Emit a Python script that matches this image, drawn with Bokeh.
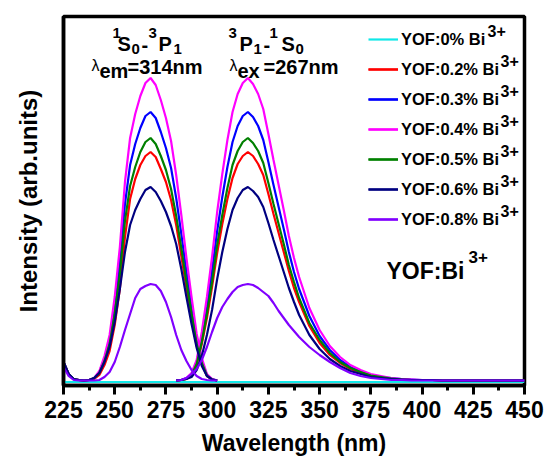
from bokeh.plotting import figure
from bokeh.models import Range1d, FixedTicker, Label, Legend, LegendItem
from bokeh.embed import file_html
from bokeh.resources import INLINE

# ---- data -------------------------------------------------------------
# excitation scan (monitored at 314 nm)
wl_ex = [225.0, 227.5, 230.0, 232.5, 235.0, 237.5, 240.0, 242.5, 245.0, 247.5,
         250.0, 252.5, 255.0, 257.5, 260.0, 262.5, 265.0, 267.5, 270.0, 272.5,
         275.0, 277.5, 280.0, 282.5, 285.0, 287.5, 290.0, 292.5, 295.0, 297.5,
         300.0]
# emission scan (excited at 267 nm)
wl_em = [280.0, 282.5, 285.0, 287.5, 290.0, 292.5, 295.0, 297.5, 300.0, 302.5,
         305.0, 307.5, 310.0, 312.5, 315.0, 317.5, 320.0, 322.5, 325.0, 327.5,
         330.0, 332.5, 335.0, 337.5, 340.0, 345.0, 350.0, 355.0, 360.0, 365.0,
         370.0, 375.0, 380.0, 385.0, 390.0, 395.0, 400.0, 405.0, 410.0, 415.0,
         420.0, 425.0, 430.0, 435.0, 440.0, 445.0, 450.0]
# undoped sample: flat over the whole range
wl_flat = [225, 250, 275, 300, 325, 350, 375, 400, 425, 450]
int_00 = [0, 0, 0, 0, 0, 0, 0, 0, 0, 0]

ex_02 = [20, 8, 3, 2, 1.5, 2, 3, 7, 17, 31, 57, 93, 145, 183, 203, 217, 226, 230,
         225, 213, 200, 182, 157, 126, 94, 64, 36, 18, 6, 2.5, 1.5]
em_02 = [1.5, 2, 3, 7, 17, 38, 64, 95, 129, 158, 183, 204, 218, 226, 230, 226, 218,
         207, 188, 168, 149, 130, 111, 94, 80, 56, 39, 27, 19, 13, 9, 6, 4.5, 3,
         2.5, 2, 2, 2, 1.5, 1.5, 1.5, 1.5, 1.5, 1.5, 1.5, 1.5, 1.5]

ex_03 = [20, 8, 3, 2, 1.5, 2, 4, 10, 23, 42, 76, 120, 178, 217, 238, 254, 266, 270,
         264, 250, 234, 214, 184, 148, 110, 76, 43, 21, 7, 3, 1.5]
em_03 = [1.5, 2, 4, 8, 20, 44, 75, 111, 151, 185, 215, 240, 256, 266, 270, 265, 256,
         242, 220, 197, 175, 153, 130, 110, 93, 66, 46, 32, 22, 15, 11, 7, 5, 4,
         3, 2.5, 2, 2, 1.5, 1.5, 1.5, 1.5, 1.5, 1.5, 1.5, 1.5, 1.5]

ex_04 = [20, 8, 3, 2, 1.5, 2, 4, 11, 26, 47, 85, 135, 200, 244, 268, 286, 299, 304,
         297, 282, 264, 241, 207, 167, 124, 85, 48, 24, 8, 3, 1.5]
em_04 = [1.5, 2, 4, 9, 22, 50, 85, 125, 170, 208, 242, 270, 288, 299, 304, 298, 288,
         273, 248, 222, 197, 172, 146, 124, 105, 74, 52, 36, 25, 17, 12, 8, 6, 4,
         3, 2.5, 2, 2, 1.5, 1.5, 1.5, 1.5, 1.5, 1.5, 1.5, 1.5, 1.5]

ex_05 = [20, 8, 3, 2, 1.5, 2, 4, 9, 21, 38, 68, 108, 161, 196, 215, 230, 240, 244,
         238, 226, 212, 193, 166, 134, 100, 68, 38, 19, 6.5, 2.5, 1.5]
em_05 = [1.5, 2, 3, 7, 18, 40, 68, 100, 137, 167, 194, 217, 231, 240, 244, 239, 231,
         219, 199, 178, 158, 138, 117, 100, 84, 59, 42, 29, 20, 14, 10, 6.5, 5,
         3.5, 2.5, 2, 2, 2, 1.5, 1.5, 1.5, 1.5, 1.5, 1.5, 1.5, 1.5, 1.5]

ex_06 = [20, 8, 3, 2, 1.5, 2, 4, 9, 20, 35, 60, 93, 130, 157, 172, 183, 192, 195,
         190, 181, 170, 156, 138, 113, 85, 58, 34, 16, 6, 2.5, 1.5]
em_06 = [1.5, 2, 3, 5, 12, 26, 47, 72, 103, 130, 153, 172, 184, 192, 195, 191, 185,
         175, 159, 142, 126, 110, 94, 80, 67, 47, 33, 23, 16, 11, 8, 5, 4, 3,
         2.5, 2, 2, 2, 1.5, 1.5, 1.5, 1.5, 1.5, 1.5, 1.5, 1.5, 1.5]

ex_08 = [15, 6, 2, 1.5, 1.5, 1.5, 1.5, 2, 5, 10, 20, 35, 52, 68, 84, 93, 96, 98,
         97, 91, 80, 65, 47, 32, 21, 12, 6, 3, 2, 1.5, 1.5]
em_08 = [1.5, 2, 4, 8, 13, 22, 35, 50, 64, 75, 83, 90, 95, 97, 98, 97, 94, 90, 86,
         79, 71, 64, 57, 51, 45, 35, 27, 20, 14, 9, 6, 4, 3, 2, 2, 1.5, 1.5, 1.5,
         1.5, 1.5, 1.5, 1.5, 1.5, 1.5, 1.5, 1.5, 1.5]

legend_labels = ["YOF:0% Bi", "YOF:0.2% Bi", "YOF:0.3% Bi", "YOF:0.4% Bi",
                 "YOF:0.5% Bi", "YOF:0.6% Bi", "YOF:0.8% Bi"]
colors = ["#10E8E8", "#FF0000", "#0000FF", "#FF00FF", "#008000", "#000080", "#8000FF"]

x_ticks = [225, 250, 275, 300, 325, 350, 375, 400, 425, 450]
x_minor = [237.5, 262.5, 287.5, 312.5, 337.5, 362.5, 387.5, 412.5, 437.5]

FONT = "Liberation Sans"

# ---- figure -----------------------------------------------------------
p = figure(width=544, height=461, output_backend="svg", toolbar_location=None,
           x_range=Range1d(225, 450), y_range=Range1d(-3.5, 365.5),
           min_border_left=63, min_border_right=20, min_border_top=16,
           min_border_bottom=76)
p.background_fill_color = "white"
p.border_fill_color = "white"
p.grid.visible = False
p.outline_line_color = "black"
p.outline_line_width = 3.5
p.outline_line_alpha = 1.0

xa = p.xaxis[0]
xa.ticker = FixedTicker(ticks=x_ticks, minor_ticks=x_minor)
xa.axis_line_width = 3.5
xa.major_tick_line_width = 3
xa.minor_tick_line_width = 3
xa.major_tick_out = 9
xa.major_tick_in = 0
xa.minor_tick_out = 5
xa.minor_tick_in = 0
xa.major_label_standoff = 6
xa.major_label_text_font = FONT
xa.major_label_text_font_style = "bold"
xa.major_label_text_font_size = "23px"
xa.major_label_text_color = "black"
xa.axis_label = "Wavelength (nm)"
xa.axis_label_text_font = FONT
xa.axis_label_text_font_style = "bold"
xa.axis_label_text_font_size = "23px"
xa.axis_label_text_color = "black"
xa.axis_label_standoff = 9

ya = p.yaxis[0]
ya.ticker = FixedTicker(ticks=[])
ya.axis_line_width = 3.5
ya.major_tick_line_color = None
ya.minor_tick_line_color = None
ya.major_label_text_font_size = "0px"
ya.axis_label = "Intensity (arb.units)"
ya.axis_label_text_font = FONT
ya.axis_label_text_font_style = "bold"
ya.axis_label_text_font_size = "24px"
ya.axis_label_text_color = "black"
ya.axis_label_standoff = 22

# ---- spectra ----------------------------------------------------------
LW = 2.2
r00 = p.line(wl_flat, int_00, color=colors[0], line_width=LW)
pairs = [(ex_02, em_02), (ex_03, em_03), (ex_04, em_04),
         (ex_05, em_05), (ex_06, em_06), (ex_08, em_08)]
items = [LegendItem(label=legend_labels[0], renderers=[r00])]
for (ex, em), lab, col in zip(pairs, legend_labels[1:], colors[1:]):
    ra = p.line(wl_ex, ex, color=col, line_width=LW)
    rb = p.line(wl_em, em, color=col, line_width=LW)
    items.append(LegendItem(label=lab, renderers=[ra, rb]))

legend = Legend(items=items, location=(305, 156), orientation="vertical",
                glyph_width=30, glyph_height=20, label_height=20, spacing=10,
                padding=0, margin=0, label_standoff=3,
                label_text_font=FONT, label_text_font_style="bold",
                label_text_font_size="16.5px", label_text_color="black",
                border_line_color=None, background_fill_alpha=0)
p.add_layout(legend)


# ---- text annotations (placed by canvas pixel, vertically centred) -------
def sx(px):
    return 225 + (px - 63) * 225 / 461


def sy(py):
    return 381.5 - py


def put(s, px, py, size, style="bold", align="left"):
    p.add_layout(Label(x=sx(px), y=sy(py), text=s, text_font=FONT,
                       text_font_size=f"{size}px", text_font_style=style,
                       text_align=align, text_baseline="middle",
                       text_color="black"))


# superscript charges after each legend entry
sup_x = [487, 500, 500, 500, 500, 500, 500]
for i, xs in enumerate(sup_x):
    put("3+", xs, 30 + 30 * i, 16)

# excitation transition
put("1", 112, 32.5, 15)
put("S", 117, 43.5, 20)
put("0", 131, 48, 15)
put("-", 141, 44, 20)
put("3", 148, 32.5, 15)
put("P", 158, 43.5, 20)
put("1", 173, 48, 15)
put("\u03bb", 91, 65, 16, "normal")
put("em", 99, 70, 20)
put("=314nm", 127, 66, 20)

# emission transition
put("3", 228, 32, 15)
put("P", 239, 43.5, 20)
put("1", 253, 48, 15)
put("-", 263, 44, 20)
put("1", 269, 32, 15)
put("S", 281, 43.5, 20)
put("0", 295, 48, 15)
put("\u03bb", 229, 65, 16, "normal")
put("ex", 237, 70, 20)
put("=267nm", 263, 66, 20)

# sample tag
put("YOF:Bi", 386, 270, 23)
put("3+", 468, 256.5, 17)

open("out.html", "w").write(file_html(p, INLINE))
